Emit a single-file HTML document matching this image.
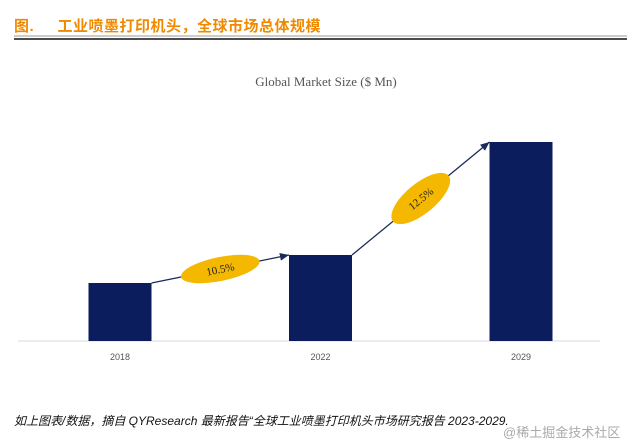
<!DOCTYPE html>
<html><head><meta charset="utf-8"><style>
body{margin:0;background:#fff;width:629px;height:443px;overflow:hidden;position:relative;font-family:"Liberation Sans","Noto Sans CJK SC",sans-serif}
#title{position:absolute;left:14px;top:15px;color:#ef8a00;font-size:15px;font-weight:bold;letter-spacing:0.5px}
#foot{position:absolute;left:14px;top:412px;font-size:12px;font-style:italic;color:#111}
#wm{position:absolute;left:503px;top:422px;font-size:13px;color:#aaa}
</style></head><body>
<div id="title">图.&nbsp;&nbsp;&nbsp;&nbsp;&nbsp;工业喷墨打印机头，全球市场总体规模</div>
<svg width="629" height="443" style="position:absolute;left:0;top:0" id="chart">
<line x1="14" y1="36" x2="627" y2="36" stroke="#ccc" stroke-width="2"/>
<line x1="14" y1="39" x2="627" y2="39" stroke="#111" stroke-width="1.5"/>
<text x="326" y="86" text-anchor="middle" font-family="Liberation Serif,serif" font-size="13" fill="#555">Global Market Size ($ Mn)</text>
<line x1="18" y1="341" x2="600" y2="341" stroke="#d6dbe3" stroke-width="1"/>
<g id="bars"></g>
</svg>
<div id="foot">如上图表/数据，摘自 QYResearch 最新报告“全球工业喷墨打印机头市场研究报告 2023-2029.</div>
<div id="wm">@稀土掘金技术社区</div>
<script>
const categories=["2018","2022","2029"];
const values=[58,86,199];
const growth=["10.5%","12.5%"];
const g=document.getElementById('bars');
const NS='http://www.w3.org/2000/svg';
const x0=120,step=200.5,bw=63,base=341;
const xs=i=>x0+i*step;
const ys=v=>base-v;
function mk(t,a){const e=document.createElementNS(NS,t);for(const k in a)e.setAttribute(k,a[k]);g.appendChild(e);return e;}
categories.forEach((c,i)=>{
 const r=mk('rect',{x:xs(i)-bw/2,y:ys(values[i]),width:bw,height:base-ys(values[i]),fill:'#0b1d5c'});
 
 
 const t=mk('text',{x:xs(i),y:360,'text-anchor':'middle','font-size':'9',fill:'#555'});
 t.textContent=c;
 
 
});
const defs=mk('defs',{});
defs.innerHTML='<marker id="ah" markerWidth="8" markerHeight="8" refX="7" refY="4" orient="auto"><path d="M0,1 L7,4 L0,7z" fill="#1a2a5a"/></marker>';
growth.forEach((gr,i)=>{
 const x1=xs(i)+bw/2,y1=ys(values[i]),x2=xs(i+1)-bw/2,y2=ys(values[i+1]);
 const l=mk('line',{x1:x1,y1:y1,x2:x2,y2:y2,stroke:'#1a2a5a','stroke-width':1.3,'marker-end':'url(#ah)'});
 
 
 const cx=(x1+x2)/2,cy=(y1+y2)/2,ang=Math.atan2(y2-y1,x2-x1)*180/Math.PI;
 const e=mk('ellipse',{cx:cx,cy:cy,rx:i?36:40,ry:i?15:12,fill:'#f5b800',transform:`rotate(${ang} ${cx} ${cy})`});
 
 
 const t=mk('text',{x:cx,y:cy+4,'text-anchor':'middle','font-size':'11','font-family':'Liberation Serif,serif',fill:'#222',transform:`rotate(${ang} ${cx} ${cy})`});
 t.textContent=gr;
 
 
});
</script>
</body></html>
